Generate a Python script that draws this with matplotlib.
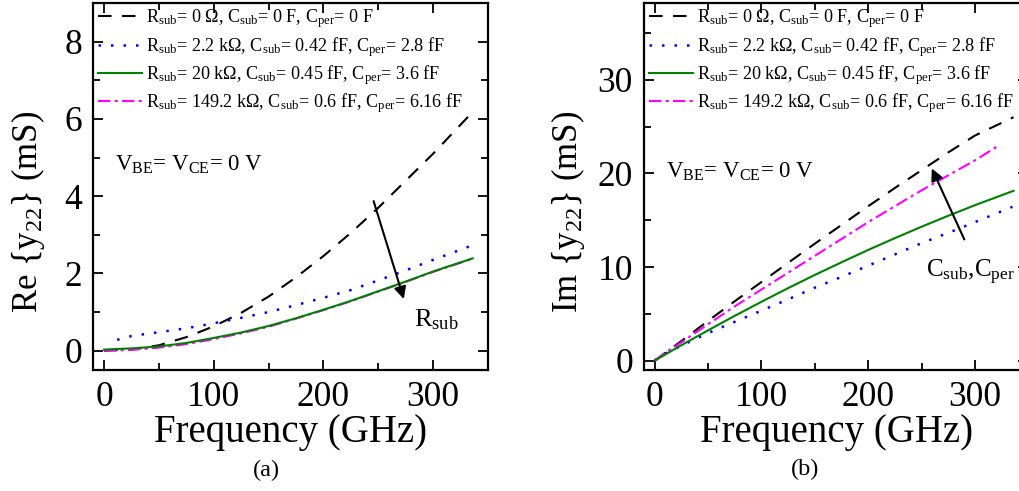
import numpy as np
import matplotlib
matplotlib.use('Agg')
import matplotlib.pyplot as plt
from matplotlib.ticker import MultipleLocator

plt.rcParams['font.family'] = ['Liberation Serif', 'DejaVu Serif']
plt.rcParams['mathtext.fontset'] = 'custom'
plt.rcParams['mathtext.rm'] = 'Liberation Serif'
plt.rcParams['mathtext.it'] = 'Liberation Serif:italic'

# Re{y22} data (mS) vs frequency (GHz)
f_re_0 = [0, 25, 50, 75, 100, 125, 150, 175, 200, 225, 250, 275, 300, 335]
re_0 = [0, 0.03, 0.14, 0.35, 0.63, 0.98, 1.4, 1.9, 2.45, 3.05, 3.7, 4.4, 5.1, 6.15]
f_re_1 = [12, 25, 50, 75, 100, 125, 150, 175, 200, 225, 250, 275, 300, 335]
re_1 = [0.28, 0.38, 0.48, 0.58, 0.71, 0.85, 1.0, 1.18, 1.37, 1.57, 1.82, 2.08, 2.35, 2.72]
f_re_2 = [0, 25, 50, 75, 100, 125, 150, 175, 200, 225, 250, 275, 300, 336]
re_2 = [0.03, 0.06, 0.11, 0.2, 0.33, 0.47, 0.64, 0.84, 1.06, 1.29, 1.54, 1.79, 2.05, 2.39]
f_re_3 = [0, 25, 50, 75, 100, 125, 150, 175, 200, 225, 250, 275, 300, 336]
re_3 = [0, 0.02, 0.08, 0.17, 0.3, 0.45, 0.62, 0.83, 1.05, 1.28, 1.53, 1.78, 2.04, 2.38]

# Im{y22} data (mS)
f_im_0 = [0, 25, 50, 75, 100, 125, 150, 175, 200, 225, 250, 275, 300, 336]
im_0 = [0, 2.1, 4.25, 6.35, 8.4, 10.45, 12.5, 14.5, 16.5, 18.45, 20.35, 22.25, 24.05, 26.0]
f_im_1 = [0, 12, 25, 50, 75, 100, 125, 150, 175, 200, 225, 250, 275, 300, 335]
im_1 = [0, 0.9, 1.6, 2.95, 4.15, 5.35, 6.55, 7.8, 8.95, 10.15, 11.35, 12.55, 13.65, 14.8, 16.43]
f_im_2 = [0, 25, 50, 75, 100, 125, 150, 175, 200, 225, 250, 275, 300, 336]
im_2 = [0, 1.65, 3.24, 4.79, 6.29, 7.75, 9.16, 10.51, 11.83, 13.09, 14.31, 15.48, 16.61, 18.14]
f_im_3 = [0, 12, 25, 50, 75, 100, 125, 150, 175, 200, 225, 250, 275, 300, 321]
im_3 = [0, 1.0, 1.95, 3.9, 5.8, 7.6, 9.4, 11.2, 13.0, 14.8, 16.5, 18.2, 19.8, 21.4, 22.9]

labels = [
    r'R$_{\mathrm{sub}}$= 0 Ω, C$_{\mathrm{sub}}$= 0 F, C$_{\mathrm{per}}$= 0 F',
    r'R$_{\mathrm{sub}}$= 2.2 kΩ, C$_{\mathrm{sub}}$= 0.42 fF, C$_{\mathrm{per}}$= 2.8 fF',
    r'R$_{\mathrm{sub}}$= 20 kΩ, C$_{\mathrm{sub}}$= 0.45 fF, C$_{\mathrm{per}}$= 3.6 fF',
    r'R$_{\mathrm{sub}}$= 149.2 kΩ, C$_{\mathrm{sub}}$= 0.6 fF, C$_{\mathrm{per}}$= 6.16 fF',
]

fig = plt.figure(figsize=(10.19, 4.91), dpi=100)
ax1 = fig.add_axes([0.0913, 0.2464, 0.3876, 0.7475])
ax2 = fig.add_axes([0.632, 0.2464, 0.3773, 0.7475])


def draw(ax, data):
    (f0, y0), (f1, y1), (f2, y2), (f3, y3) = data
    l0, = ax.plot(f0, y0, color='black', lw=1.5, dashes=(6.5, 5))
    l1, = ax.plot(f1, y1, color='blue', lw=1.8, dashes=(1, 4))
    l3, = ax.plot(f3, y3, color='magenta', lw=1.5, dashes=(6, 2, 1.5, 2))
    l2, = ax.plot(f2, y2, color='green', lw=1.5)
    ax.legend([l0, l1, l2, l3], labels, loc='upper left', frameon=False,
              fontsize=13.1, handlelength=2.45, handletextpad=0.2,
              labelspacing=0.24, borderaxespad=0.2, borderpad=0.05)
    ax.set_xlim(-10, 350)
    ax.xaxis.set_major_locator(MultipleLocator(100))
    ax.xaxis.set_minor_locator(MultipleLocator(50))
    ax.tick_params(which='both', direction='in', top=True, right=True,
                   labelsize=25.5, width=1.3, pad=8)
    ax.tick_params(which='major', length=7)
    ax.tick_params(which='minor', length=5)
    for s in ax.spines.values():
        s.set_linewidth(1.6)
    ax.set_xlabel('Frequency (GHz)', fontsize=28, labelpad=0)


draw(ax1, [(f_re_0, re_0), (f_re_1, re_1), (f_re_2, re_2), (f_re_3, re_3)])
ax1.set_ylim(-0.5, 9)
ax1.yaxis.set_major_locator(MultipleLocator(2))
ax1.yaxis.set_minor_locator(MultipleLocator(1))
ax1.set_ylabel(r'Re {y$_{22}$} (mS)', fontsize=25)
ax1.yaxis.set_label_coords(-0.116, 0.43)
ax1.text(10, 4.66, r'V$_{\mathrm{BE}}$= V$_{\mathrm{CE}}$= 0 V', fontsize=16.5, va='baseline')
ax1.annotate('', xy=(274, 1.27), xytext=(245, 3.94),
             arrowprops=dict(arrowstyle='-|>', color='black', lw=1.5, mutation_scale=18))
ax1.text(283, 0.62, r'R$_{\mathrm{sub}}$', fontsize=19, va='baseline')

draw(ax2, [(f_im_0, im_0), (f_im_1, im_1), (f_im_2, im_2), (f_im_3, im_3)])
ax2.set_ylim(-1, 38.2)
ax2.yaxis.set_major_locator(MultipleLocator(10))
ax2.yaxis.set_minor_locator(MultipleLocator(5))
ax2.set_ylabel(r'Im {y$_{22}$} (mS)', fontsize=25)
ax2.yaxis.set_label_coords(-0.148, 0.43)
ax2.text(10.3, 19.5, r'V$_{\mathrm{BE}}$= V$_{\mathrm{CE}}$= 0 V', fontsize=16.5, va='baseline')
ax2.annotate('', xy=(258.4, 20.8), xytext=(291, 12.68),
             arrowprops=dict(arrowstyle='-|>', color='black', lw=1.5, mutation_scale=18))
ax2.text(253.7, 8.93, r'C$_{\mathrm{sub}}$,C$_{\mathrm{per}}$', fontsize=18, va='baseline')

fig.text(266 / 1019, 1 - 470 / 491, '(a)', fontsize=17.5, ha='center', va='center')
fig.text(805 / 1019, 1 - 469 / 491, '(b)', fontsize=17.5, ha='center', va='center')

fig.savefig('out.png', dpi=100)
